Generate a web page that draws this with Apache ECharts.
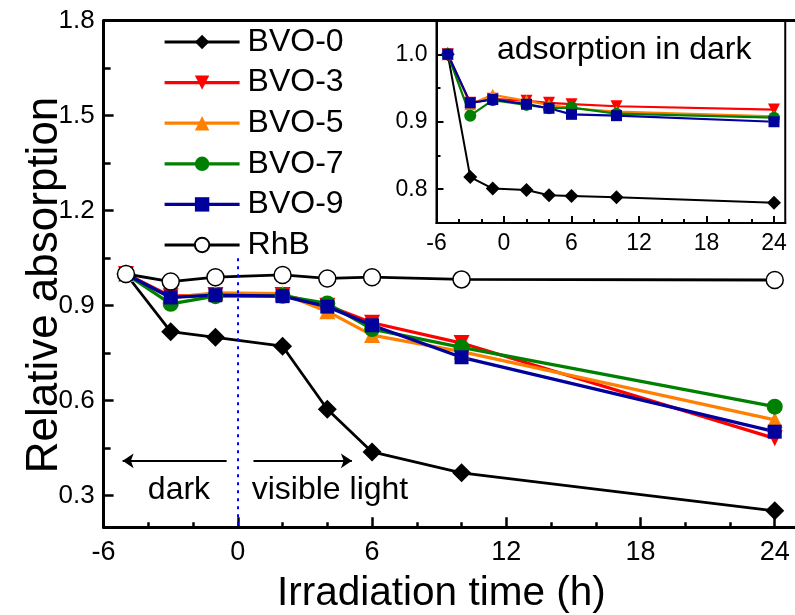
<!DOCTYPE html>
<html><head><meta charset="utf-8">
<script src="https://cdn.jsdelivr.net/npm/echarts@6/dist/echarts.min.js"></script>
<style>html,body{margin:0;padding:0;background:#fff}#c{width:795px;height:615px}</style>
</head><body><div id="c"></div>
<script>
// ---- data ----
const times = [-5, -3, -1, 2, 4, 6, 10, 24];
const bvo0 = [1.0, 0.818, 0.800, 0.772, 0.573, 0.438, 0.372, 0.252];
const bvo3 = [1.0, 0.930, 0.934, 0.934, 0.900, 0.846, 0.782, 0.481];
const bvo5 = [1.0, 0.925, 0.940, 0.938, 0.882, 0.807, 0.755, 0.539];
const bvo7 = [1.0, 0.906, 0.930, 0.931, 0.907, 0.826, 0.768, 0.581];
const bvo9 = [1.0, 0.926, 0.933, 0.930, 0.897, 0.838, 0.737, 0.502];
const rhb  = [1.0, 0.976, 0.990, 0.997, 0.986, 0.990, 0.983, 0.981];

const insetTimes = [-5, -3, -1, 2, 4, 6, 10, 24];
const in0 = [1.0, 0.818, 0.801, 0.799, 0.791, 0.790, 0.788, 0.780];
const in3 = [1.0, 0.928, 0.934, 0.931, 0.928, 0.926, 0.923, 0.918];
const in5 = [1.0, 0.926, 0.940, 0.931, 0.925, 0.920, 0.915, 0.908];
const in7 = [1.0, 0.909, 0.932, 0.925, 0.920, 0.921, 0.912, 0.906];
const in9 = [1.0, 0.928, 0.933, 0.926, 0.920, 0.911, 0.909, 0.900];

const xTicks = [-6, 0, 6, 12, 18, 24];
const xMinor = [-4, -2, 2, 4, 8, 10, 14, 16, 20, 22];
const yTicks = [0.3, 0.6, 0.9, 1.2, 1.5, 1.8];
const yMinor = [0.45, 0.75, 1.05, 1.35, 1.65];
const inYTicks = [0.8, 0.9, 1.0];
const inYMinor = [0.85, 0.95];

const FONT = 'Liberation Sans, Arial, sans-serif';
const pair = (xs, ys) => xs.map((x, i) => [x, ys[i]]);

function line(name, xs, ys, color, symbol, size, rotate, gi, lw, extra) {
  return Object.assign({
    name, type: 'line', xAxisIndex: gi === 0 ? 0 : 3, yAxisIndex: gi === 0 ? 0 : 2,
    data: pair(xs, ys), symbol, symbolSize: size, symbolRotate: rotate || 0,
    showAllSymbol: true, animation: false,
    lineStyle: { color, width: lw },
    itemStyle: { color, borderColor: color, borderWidth: 0 },
    emphasis: { disabled: true }
  }, extra || {});
}

const annotations = {
  markLine: {
    silent: true, symbol: ['none', 'arrow'], symbolSize: 11, label: { show: false },
    lineStyle: { color: '#000', width: 1.8, type: 'solid' },
    data: [
      [{ coord: [0, 1.05], symbol: 'none', lineStyle: { color: '#0000ff', type: [3, 5], width: 2 } }, { coord: [0, 0.2], symbol: 'none' }],
      [{ coord: [-0.5, 0.41] }, { coord: [-5.15, 0.41] }],
      [{ coord: [0.7, 0.41] }, { coord: [5.1, 0.41] }]
    ]
  },
  markPoint: {
    silent: true, symbol: 'circle', symbolSize: 0,
    itemStyle: { color: 'rgba(0,0,0,0)' },
    label: { show: true, position: 'inside', color: '#000', fontSize: 32, fontFamily: FONT },
    data: [
      { coord: [-2.63, 0.318], label: { formatter: 'dark' } },
      { coord: [4.12, 0.318], label: { formatter: 'visible light' } }
    ]
  }
};

const axisBase = (extra) => Object.assign({
  type: 'value', splitLine: { show: false },
  axisLine: { show: true, onZero: false, lineStyle: { color: '#000', width: 3 } },
  axisTick: { show: true, inside: true, length: 10, lineStyle: { color: '#000', width: 2.5 } },
  axisLabel: { show: true, color: '#000', fontFamily: FONT }
}, extra);

const option = {
  backgroundColor: '#fff',
  animation: false,
  title: {
    text: 'adsorption in dark', left: 492, top: 29,
    textStyle: { fontSize: 32, fontWeight: 'normal', color: '#000', fontFamily: FONT }
  },
  legend: {
    orient: 'vertical', left: 163, top: 26, padding: 0,
    itemWidth: 75, itemHeight: 18, itemGap: 8.6,
    data: ['BVO-0', 'BVO-3', 'BVO-5', 'BVO-7', 'BVO-9', 'RhB'],
    lineStyle: { width: 3.2 },
    textStyle: { fontSize: 32, lineHeight: 31, color: '#000', fontFamily: FONT, padding: [0, 0, 0, 3] }
  },
  grid: [
    { left: 103.6, top: 20.7, right: -2.1, bottom: 87.7, outerBoundsMode: 'none', containLabel: false },
    { left: 436.5, top: 20.5, right: 9.75, bottom: 392, outerBoundsMode: 'none', containLabel: false,
      show: true, backgroundColor: '#fff', borderColor: '#000', borderWidth: 2 }
  ],
  xAxis: [
    axisBase({ gridIndex: 0, position: 'bottom', min: -6, max: 25,
      axisTick: { show: true, inside: true, length: 10, customValues: xTicks, lineStyle: { color: '#000', width: 2.5 } },
      axisLabel: { show: true, customValues: xTicks, fontSize: 27, margin: 12, color: '#000', fontFamily: FONT },
      name: 'Irradiation time (h)', nameLocation: 'middle', nameGap: 46, nameMoveOverlap: false,
      nameTextStyle: { fontSize: 40.5, color: '#000', fontFamily: FONT, padding: [0, 18, 0, 0] } }),
    axisBase({ gridIndex: 0, position: 'bottom', min: -6, max: 25,
      axisLine: { show: false, onZero: false },
      axisTick: { show: true, inside: true, length: 5, customValues: xMinor, lineStyle: { color: '#000', width: 2.5 } },
      axisLabel: { show: false } }),
    axisBase({ gridIndex: 0, position: 'top', min: -6, max: 25,
      axisTick: { show: false }, axisLabel: { show: false } }),
    axisBase({ gridIndex: 1, position: 'bottom', min: -6, max: 25,
      axisLine: { show: true, onZero: false, lineStyle: { color: '#000', width: 2 } },
      axisTick: { show: true, inside: true, length: 7, customValues: xTicks, lineStyle: { color: '#000', width: 2 } },
      axisLabel: { show: true, customValues: xTicks, fontSize: 23, margin: 9, color: '#000', fontFamily: FONT } }),
    axisBase({ gridIndex: 1, position: 'bottom', min: -6, max: 25,
      axisLine: { show: false, onZero: false },
      axisTick: { show: true, inside: true, length: 4, customValues: xMinor, lineStyle: { color: '#000', width: 2 } },
      axisLabel: { show: false } })
  ],
  yAxis: [
    axisBase({ gridIndex: 0, position: 'left', min: 0.2, max: 1.8,
      axisTick: { show: true, inside: true, length: 10, customValues: yTicks, lineStyle: { color: '#000', width: 2.5 } },
      axisLabel: { show: true, customValues: yTicks, formatter: v => v.toFixed(1), fontSize: 26, margin: 9, color: '#000', fontFamily: FONT },
      name: 'Relative absorption', nameLocation: 'middle', nameGap: 37, nameRotate: 90, nameMoveOverlap: false,
      nameTextStyle: { fontSize: 44, color: '#000', fontFamily: FONT, padding: [0, 22, 0, 0] } }),
    axisBase({ gridIndex: 0, position: 'left', min: 0.2, max: 1.8,
      axisLine: { show: false, onZero: false },
      axisTick: { show: true, inside: true, length: 7, customValues: yMinor, lineStyle: { color: '#000', width: 2.5 } },
      axisLabel: { show: false } }),
    axisBase({ gridIndex: 1, position: 'left', min: 0.75, max: 1.05,
      axisLine: { show: true, onZero: false, lineStyle: { color: '#000', width: 2 } },
      axisTick: { show: true, inside: true, length: 7, customValues: inYTicks, lineStyle: { color: '#000', width: 2 } },
      axisLabel: { show: true, customValues: inYTicks, formatter: v => v.toFixed(1), fontSize: 23, margin: 9, color: '#000', fontFamily: FONT } }),
    axisBase({ gridIndex: 1, position: 'left', min: 0.75, max: 1.05,
      axisLine: { show: false, onZero: false },
      axisTick: { show: true, inside: true, length: 4, customValues: inYMinor, lineStyle: { color: '#000', width: 2 } },
      axisLabel: { show: false } })
  ],
  series: [
    line('BVO-0', times, bvo0, '#000000', 'diamond', 19, 0, 0, 2.8, annotations),
    line('BVO-3', times, bvo3, '#ff0000', 'triangle', 16, 180, 0, 3.3),
    line('BVO-5', times, bvo5, '#ff8000', 'triangle', 16, 0, 0, 3.3),
    line('BVO-7', times, bvo7, '#008000', 'circle', 16, 0, 0, 3.3),
    line('BVO-9', times, bvo9, '#00009c', 'rect', 14, 0, 0, 3.3),
    line('RhB', times, rhb, '#000000', 'circle', 17, 0, 0, 2.8,
      { itemStyle: { color: '#ffffff', borderColor: '#000000', borderWidth: 1.5 } }),
    line('BVO-0', insetTimes, in0, '#000000', 'diamond', 14, 0, 1, 2),
    line('BVO-3', insetTimes, in3, '#ff0000', 'triangle', 12, 180, 1, 2.2),
    line('BVO-5', insetTimes, in5, '#ff8000', 'triangle', 12, 0, 1, 2.2),
    line('BVO-7', insetTimes, in7, '#008000', 'circle', 12, 0, 1, 2.2),
    line('BVO-9', insetTimes, in9, '#00009c', 'rect', 11, 0, 1, 2.2)
  ]
};

const chart = echarts.init(document.getElementById('c'), null, { renderer: 'canvas' });
chart.setOption(option);
</script>
</body></html>
